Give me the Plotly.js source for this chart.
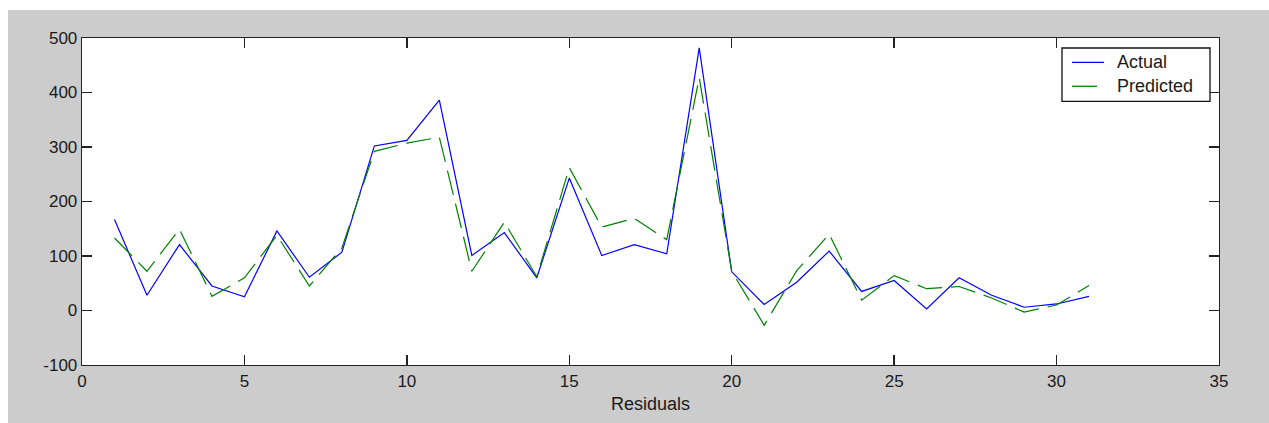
<!DOCTYPE html>
<html>
<head>
<meta charset="utf-8">
<script src="https://cdn.plot.ly/plotly-3.0.1.min.js"></script>
<style>
html,body{margin:0;padding:0;background:#ffffff;}
#chart{position:absolute;left:8px;top:10px;width:1261px;height:413px;}
</style>
</head>
<body>
<div id="chart"></div>
<script>
const xIndex = [1,2,3,4,5,6,7,8,9,10,11,12,13,14,15,16,17,18,19,20,21,22,23,24,25,26,27,28,29,30,31];
const actual = [167,28,121,45,25,146,61,107,302,312,386,101,143,60,243,101,121,104,482,71,11,52,109,35,55,3,60,28,6,12,26];
const predicted = [133,72,149,26,60,138,45,115,292,307,318,72,162,62,262,153,169,130,427,72,-27,73,140,19,64,40,44,23,-3,10,46];
const seriesNames = ['Actual','Predicted'];
const seriesColors = ['#0000ff','#008000'];
const xTicks = [0,5,10,15,20,25,30,35];
const yTicks = [-100,0,100,200,300,400,500];

const fam = '"Liberation Sans", Arial, sans-serif';
const font = {family:fam, size:17, color:'#1a1a1a'};

const traces = [
  {x:xIndex, y:actual, name:seriesNames[0], type:'scatter', mode:'lines',
   line:{color:seriesColors[0], width:1.2}},
  {x:xIndex, y:predicted, name:seriesNames[1], type:'scatter', mode:'lines',
   line:{color:seriesColors[1], width:1.2, dash:'25px,9px'}}
];

const axisCommon = {
  showgrid:false, zeroline:false, showline:true, linecolor:'#222', linewidth:1.3,
  mirror:'ticks', ticks:'inside', ticklen:10, tickcolor:'#222', tickwidth:1.3,
  tickfont:font
};

// legend box drawn in paper coordinates (matches the original boxed legend)
const legBox = {x0:0.8619, x1:0.9921, y0:0.8064, y1:0.9694};
const legRows = [0.9257, 0.8523];
const shapes = [
  {type:'rect', xref:'paper', yref:'paper', x0:legBox.x0, x1:legBox.x1, y0:legBox.y0, y1:legBox.y1,
   fillcolor:'#ffffff', line:{color:'#111', width:1.3}, layer:'above'},
  {type:'line', xref:'paper', yref:'paper', x0:0.8707, x1:0.8989, y0:legRows[0], y1:legRows[0],
   line:{color:seriesColors[0], width:1.3}, layer:'above'},
  {type:'line', xref:'paper', yref:'paper', x0:0.8707, x1:0.8927, y0:legRows[1], y1:legRows[1],
   line:{color:seriesColors[1], width:1.3}, layer:'above'}
];
const annotations = seriesNames.map((n,i)=>({
  text:n, xref:'paper', yref:'paper', x:0.9085, y:legRows[i], xanchor:'left', yanchor:'middle',
  showarrow:false, font:{family:fam, size:18, color:'#1a1a1a'}
}));

const layout = {
  width:1261, height:413,
  margin:{l:74, r:50, t:28, b:58},
  paper_bgcolor:'#cccccc', plot_bgcolor:'#ffffff',
  font:font,
  showlegend:false,
  shapes:shapes,
  annotations:annotations,
  xaxis:Object.assign({}, axisCommon, {range:[0,35], tickvals:xTicks, ticktext:xTicks.map(String),
    title:{text:'Residuals', font:{family:fam, size:18, color:'#1a1a1a'}, standoff:7}}),
  yaxis:Object.assign({}, axisCommon, {range:[-100,500], tickvals:yTicks, ticktext:yTicks.map(String)})
};

Plotly.newPlot('chart', traces, layout, {displayModeBar:false, staticPlot:true});
</script>
</body>
</html>
